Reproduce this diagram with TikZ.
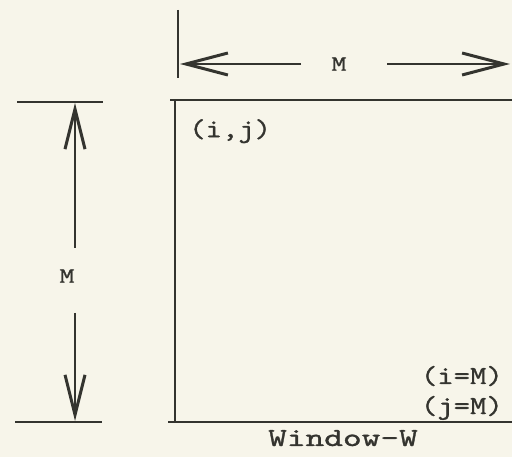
\documentclass[tikz,border=0pt]{standalone}
\usepackage{fontspec}
\newfontfamily\typew{lmmono10-regular.otf}[FakeBold=1]
\usetikzlibrary{arrows.meta}
\definecolor{paper}{HTML}{F7F5EA}
\definecolor{ink}{HTML}{34342F}
\begin{document}
\begin{tikzpicture}[x=1pt,y=-1pt,
  rule/.style={draw=ink,line width=2.8pt},
  dim/.style={draw=ink,line width=2.4pt,-{Straight Barb[length=40pt,width=20pt,line width=3pt]}},
  hdim/.style={draw=ink,line width=2.4pt,-{Straight Barb[length=42pt,width=22pt,line width=3pt]}},
  lab/.style={text=ink,inner sep=0pt,font=\typew\fontsize{26}{28}\selectfont},
  dimlab/.style={text=ink,inner sep=0pt,font=\typew\fontsize{22}{24}\selectfont}]
\fill[paper] (0,0) rectangle (512,457);
\useasboundingbox (0,0) rectangle (512,457);
% window frame
\coordinate (tl) at (175,100);
\coordinate (tr) at (512,100);
\coordinate (bl) at (175,422);
\coordinate (br) at (512,422);
\draw[rule] (170,100) -- (tr);
\draw[rule] (tl) -- (bl);
\draw[rule] (168,422) -- (br);
% top dimension
\coordinate (tick1) at (178,10);
\coordinate (tick2) at (178,78);
\draw[rule] (tick1) -- (tick2);
\node[dimlab] (mtop) at (339,64) {\scalebox{1.3}[1]{M}};
\coordinate (hl) at (180,64);
\coordinate (hr) at (510,64);
\coordinate (hls) at (301,64);
\coordinate (hrs) at (387,64);
\draw[hdim] (hls) -- (hl);
\draw[hdim] (hrs) -- (hr);
% left dimension
\coordinate (lt1) at (17,102);
\coordinate (lt2) at (103,102);
\coordinate (lb1) at (15,422);
\coordinate (lb2) at (102,422);
\draw[rule] (lt1) -- (lt2);
\draw[rule] (lb1) -- (lb2);
\node[dimlab] (mleft) at (67,276) {\scalebox{1.3}[1]{M}};
\coordinate (vt) at (75,103);
\coordinate (vb) at (75,421);
\coordinate (vts) at (75,248);
\coordinate (vbs) at (75,313);
\draw[dim] (vts) -- (vt);
\draw[dim] (vbs) -- (vb);
% labels
\node[lab,anchor=north west] (ij) at (189,119) {\scalebox{1.2}[1]{(i,j)}};
\node[lab,anchor=base east] (iM) at (503,384) {\scalebox{1.2}[1]{(i=M)}};
\node[lab,anchor=base east] (jM) at (503,414) {\scalebox{1.2}[1]{(j=M)}};
\node[lab,anchor=base] (win) at (343,446) {\scalebox{1.37}[1]{Window-W}};
\end{tikzpicture}
\end{document}
